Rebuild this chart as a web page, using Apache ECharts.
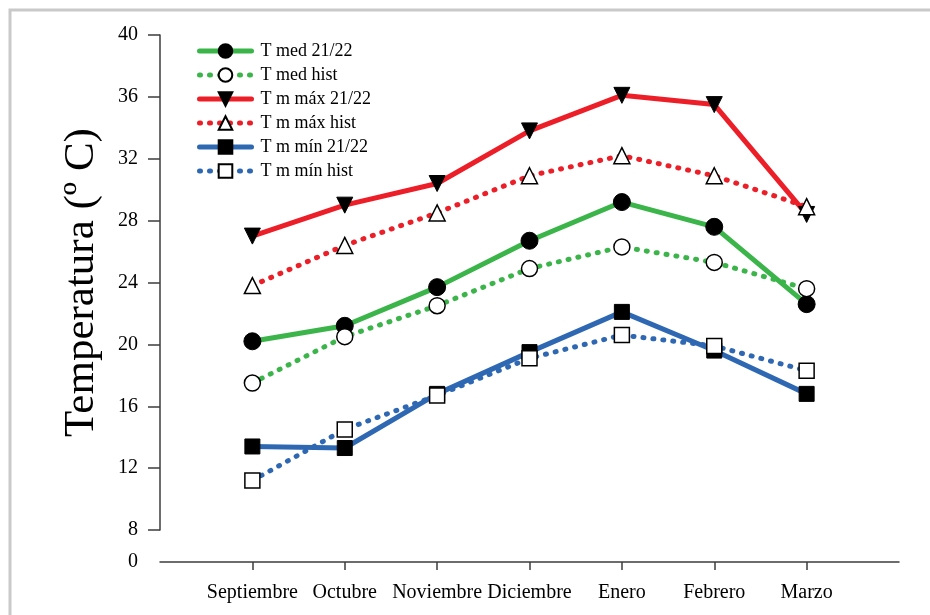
<!DOCTYPE html>
<html>
<head>
<meta charset="utf-8">
<script src="https://cdn.jsdelivr.net/npm/echarts@6/dist/echarts.min.js"></script>
<style>
  html, body { margin: 0; padding: 0; background: #fff; }
  #chart { width: 930px; height: 615px; }
</style>
</head>
<body>
<div id="chart"></div>
<script>
// Months of the 2021/22 season
const months = ['Septiembre', 'Octubre', 'Noviembre', 'Diciembre', 'Enero', 'Febrero', 'Marzo'];

// Monthly temperatures (ºC)
const tMed2122 = [20.2, 21.2, 23.7, 26.7, 29.2, 27.6, 22.6];
const tMedHist = [17.5, 20.5, 22.5, 24.9, 26.3, 25.3, 23.6];
const tMax2122 = [27.0, 29.0, 30.4, 33.8, 36.1, 35.5, 28.4];
const tMaxHist = [23.8, 26.4, 28.5, 30.9, 32.2, 30.9, 28.9];
const tMin2122 = [13.4, 13.3, 16.8, 19.5, 22.1, 19.6, 16.8];
const tMinHist = [11.2, 14.5, 16.7, 19.1, 20.6, 19.9, 18.3];

// Series names
const names = ['T med 21/22', 'T med hist', 'T m máx 21/22', 'T m máx hist', 'T m mín 21/22', 'T m mín hist'];

// Empty slots on both ends leave room around the first and last month
const slots = [''].concat(months, ['']);
const pad = arr => [null].concat(arr, [null]);

const FONT = "'Liberation Serif', 'Times New Roman', serif";
const AXIS_COLOR = '#3c3c3c';
const GREEN = '#3bb54a';
const RED = '#ec1e28';
const BLUE = '#2f68b2';

function series(name, values, color, dotted, symbol, filled, rotate, size) {
  return {
    name: name,
    type: 'line',
    xAxisIndex: 0,
    yAxisIndex: 0,
    data: pad(values),
    symbol: symbol,
    symbolSize: size,
    symbolRotate: rotate,
    showAllSymbol: true,
    lineStyle: {
      color: color,
      width: 5,
      type: dotted ? [1, 9] : 'solid',
      cap: 'round'
    },
    itemStyle: {
      color: filled ? '#000' : '#fff',
      borderColor: '#000',
      borderWidth: filled ? 1 : 1.5
    },
    emphasis: { disabled: true }
  };
}

const chart = echarts.init(document.getElementById('chart'), null, { renderer: 'canvas' });

chart.setOption({
  animation: false,
  backgroundColor: '#fff',
  graphic: [{
    // page frame along the left and top edges
    type: 'polyline',
    shape: { points: [[10, 2000], [10, 10], [2000, 10]] },
    style: { fill: null, stroke: '#c9c9c9', lineWidth: 3 },
    silent: true
  }],
  legend: {
    orient: 'vertical',
    left: 192,
    top: 37,
    itemWidth: 52,
    itemHeight: 17,
    itemGap: 6,
    lineStyle: { width: 5 },
    textStyle: { fontFamily: FONT, fontSize: 18, color: '#000', padding: [0, 0, 0, 4] },
    data: names
  },
  grid: [
    { left: 160, right: 31, top: 35, bottom: 85 },
    { left: 160, right: 31, top: 530, bottom: 53 }
  ],
  xAxis: [
    {
      gridIndex: 0,
      type: 'category',
      data: slots,
      boundaryGap: false,
      show: false
    },
    {
      gridIndex: 1,
      type: 'category',
      data: slots,
      boundaryGap: false,
      axisLine: { show: true, lineStyle: { color: AXIS_COLOR, width: 1.5 } },
      axisTick: {
        show: true,
        length: 8,
        interval: (i) => i > 0 && i < slots.length - 1,
        lineStyle: { color: AXIS_COLOR, width: 1.5 }
      },
      axisLabel: {
        interval: 0,
        margin: 21,
        fontFamily: FONT,
        fontSize: 20,
        color: '#000'
      },
      splitLine: { show: false }
    }
  ],
  yAxis: [
    {
      gridIndex: 0,
      type: 'value',
      min: 8,
      max: 40,
      interval: 4,
      name: 'Temperatura (º C)',
      nameLocation: 'middle',
      nameRotate: 90,
      nameGap: 57,
      nameTextStyle: { fontFamily: FONT, fontSize: 43, color: '#000' },
      axisLine: { show: true, lineStyle: { color: AXIS_COLOR, width: 1.5 } },
      axisTick: { show: true, length: 12, lineStyle: { color: AXIS_COLOR, width: 1.5 } },
      axisLabel: { margin: 22, fontFamily: FONT, fontSize: 20, color: '#000' },
      splitLine: { show: false }
    },
    {
      gridIndex: 1,
      type: 'value',
      min: 0,
      max: 8,
      interval: 8,
      axisLine: { show: false },
      axisTick: { show: false },
      axisLabel: {
        margin: 22,
        fontFamily: FONT,
        fontSize: 20,
        color: '#000',
        formatter: v => (v === 0 ? '0' : '')
      },
      splitLine: { show: false }
    }
  ],
  series: [
    series(names[0], tMed2122, GREEN, false, 'circle', true, 0, 17),
    series(names[1], tMedHist, GREEN, true, 'circle', false, 0, 16),
    series(names[2], tMax2122, RED, false, 'triangle', true, 180, 16),
    series(names[3], tMaxHist, RED, true, 'triangle', false, 0, 16),
    series(names[4], tMin2122, BLUE, false, 'rect', true, 0, 15),
    series(names[5], tMinHist, BLUE, true, 'rect', false, 0, 15)
  ]
});
</script>
</body>
</html>
